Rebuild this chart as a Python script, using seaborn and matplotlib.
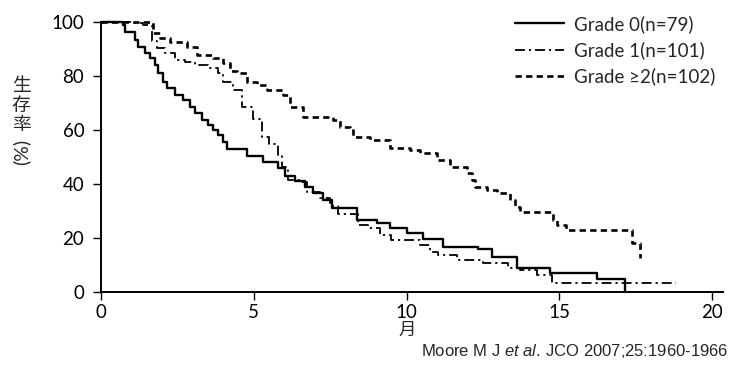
import matplotlib
matplotlib.use("Agg")
import matplotlib.pyplot as plt
import pandas as pd
import seaborn as sns

# ---- data ----
grade0_t = [0, 0.72, 0.79, 1.11, 1.21, 1.44, 1.60, 1.77, 1.87, 2.03, 2.16, 2.42, 2.68, 2.91, 3.08,
            3.31, 3.50, 3.67, 3.83, 4.00, 4.12, 4.78, 5.30, 5.79, 6.02, 6.35, 6.68, 6.94, 7.27, 7.56,
            8.38, 9.03, 9.46, 10.02, 10.54, 11.20, 12.34, 12.80, 13.62, 14.70, 16.24, 17.15]
grade0_s = [100, 99, 96.3, 93.3, 90.7, 88.5, 86.7, 84, 81, 77.8, 75.5, 73, 71, 68.5, 66.3,
            63.7, 61.8, 60, 58, 55.5, 53, 50.5, 48, 46, 43, 41, 39, 36.5, 34, 31,
            26.7, 25.5, 23.7, 21.8, 19.5, 16.7, 15.8, 13, 8.9, 7, 5, 0]

grade1_t = [0, 1.00, 1.37, 1.67, 1.83, 2.10, 2.42, 2.75, 3.08, 3.50, 3.83, 4.00, 4.32, 4.60, 4.98,
            5.27, 5.50, 5.79, 5.93, 6.12, 6.50, 6.74, 7.17, 7.50, 7.76, 8.40, 8.73, 9.13, 9.50,
            10.44, 10.77, 11.03, 11.65, 12.50, 13.30, 13.70, 14.27, 14.76, 18.80]
grade1_s = [100, 99.5, 99, 93, 90.4, 88.5, 86, 85, 84, 83, 81, 77.8, 75, 68.5, 64,
            57.4, 55, 50.7, 46.3, 41.5, 40.7, 37, 35, 32, 29, 25, 23.7, 21, 19.3,
            17.4, 15, 13.7, 11.8, 10.7, 8.9, 8.1, 6.3, 3.3, 3.3]

grade2_t = [0, 1.70, 1.93, 2.26, 2.81, 3.14, 3.67, 4.00, 4.22, 4.45, 4.78, 5.10, 5.43, 5.96, 6.19,
            6.61, 7.59, 7.82, 8.15, 8.25, 8.80, 9.46, 10.11, 10.44, 11.00, 11.42, 11.98, 12.14,
            12.24, 12.64, 12.96, 13.39, 13.55, 13.72, 14.80, 14.93, 15.20, 17.38, 17.64]
grade2_s = [100, 96, 94, 92.6, 90.7, 87.8, 86.7, 84.8, 82, 81, 77.8, 76.7, 74.8, 73, 68.5,
            65, 63.7, 61, 60, 57.4, 56.3, 53.3, 52.6, 51.5, 48.9, 46.3, 44, 41.5,
            39, 37.8, 36.7, 34, 31.5, 29.6, 26.7, 24.8, 23, 18, 12.5]

labels = ["Grade 0(n=79)", "Grade 1(n=101)", "Grade \u22652(n=102)"]
x_ticks = [0, 5, 10, 15, 20]
y_ticks = [0, 20, 40, 60, 80, 100]
x_label = "月"
y_label_cjk = "生\n存\n率"
y_label_unit = "(%)"
citation = r"Moore M J $\mathit{et\ al.}\,$JCO 2007;25:1960-1966"

# ---- style ----
sns.set_theme(style="ticks")
plt.rcParams["font.family"] = ["Lato", "Noto Sans CJK JP", "DejaVu Sans"]
plt.rcParams["mathtext.fontset"] = "custom"
plt.rcParams["mathtext.it"] = "Liberation Sans:italic"
plt.rcParams["mathtext.rm"] = "Liberation Sans"

fig = plt.figure(figsize=(7.32, 3.70), dpi=100)
ax = fig.add_axes([101 / 732, 78 / 370, 622 / 732, 270 / 370])

line_styles = [
    dict(linewidth=1.7, linestyle="-"),
    dict(linewidth=1.3, linestyle=(0, (5.5, 2.2, 1.2, 2.2))),
    dict(linewidth=1.9, linestyle=(0, (2.4, 1.6))),
]
series = [(grade0_t, grade0_s), (grade1_t, grade1_s), (grade2_t, grade2_s)]
for (t, s), lab, st in zip(series, labels, line_styles):
    df = pd.DataFrame({"t": t, "s": s})
    sns.lineplot(data=df, x="t", y="s", ax=ax, color="black", drawstyle="steps-post",
                 label=lab, clip_on=False, sort=False, legend=False, **st)

ax.set_xlim(0, 20.35)
ax.set_ylim(0, 100)
ax.set_xticks(x_ticks)
ax.set_yticks(y_ticks)
ax.tick_params(direction="out", length=6, width=1.0, labelsize=13.5, colors="black")
ax.tick_params(axis="y", pad=6)
ax.tick_params(axis="x", pad=2.5)
for side in ["top", "right"]:
    ax.spines[side].set_visible(False)
for side in ["left", "bottom"]:
    ax.spines[side].set_linewidth(1.4)
    ax.spines[side].set_color("black")
ax.set_xlabel("")
ax.set_ylabel("")

handles = ax.get_lines()[:3]
ax.legend(handles, labels, loc="upper left", bbox_to_anchor=(515 / 732, 1 - 15 / 370),
          bbox_transform=fig.transFigure, frameon=False, handlelength=2.6,
          handletextpad=0.55, labelspacing=0.45, borderpad=0, borderaxespad=0,
          fontsize=13.5)

fig.text(407 / 732, 1 - 330 / 370, x_label, ha="center", va="center", fontsize=12.5,
         family=["Noto Sans CJK JP", "DejaVu Sans"])
fig.text(21 / 732, 1 - 105 / 370, y_label_cjk, ha="center", va="center", fontsize=13.5,
         linespacing=0.9, family=["Noto Sans CJK JP", "DejaVu Sans"])
fig.text(21 / 732, 1 - 152 / 370, y_label_unit, ha="center", va="center", fontsize=14,
         rotation=90, family=["Lato", "DejaVu Sans"])
fig.text(728 / 732, 1 - 351 / 370, citation, ha="right", va="center", fontsize=12,
         family=["Liberation Sans", "DejaVu Sans"])

fig.savefig("out.png", dpi=100, facecolor="white")
